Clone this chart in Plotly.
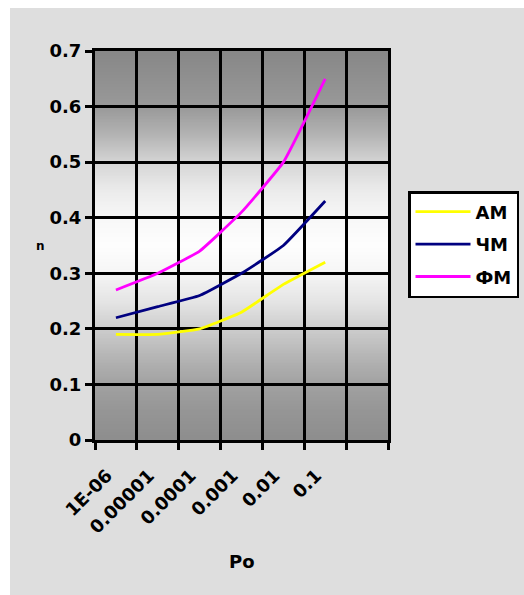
import base64
import struct
import zlib

import numpy as np
import plotly.graph_objects as go

# Signal power (category labels) and efficiency for three modulation types
po_labels = ["1E-06", "0.00001", "0.0001", "0.001", "0.01", "0.1"]
am_values = [0.19, 0.19, 0.20, 0.23, 0.28, 0.32]
chm_values = [0.22, 0.24, 0.26, 0.30, 0.35, 0.43]
fm_values = [0.27, 0.30, 0.34, 0.41, 0.50, 0.65]

series_names = ["АМ", "ЧМ", "ФМ"]
series_colors = ["#ffff00", "#000080", "#ff00ff"]

n_slots = 7  # one empty category slot on the right
y_max = 0.7

FONT = dict(family="DejaVu Sans", size=18, color="black", weight="bold")

W, H = 524, 595
ML, MR, MT, MB = 95, 136, 51, 155
PW, PH = W - ML - MR, H - MT - MB


def gray_png(levels):
    """Encode a 1-pixel-wide grayscale column as a PNG data URI."""
    raw = b"".join(b"\x00" + bytes([int(v)]) for v in levels)

    def chunk(tag, data):
        body = tag + data
        return (struct.pack(">I", len(data)) + body
                + struct.pack(">I", zlib.crc32(body) & 0xFFFFFFFF))

    png = (b"\x89PNG\r\n\x1a\n"
           + chunk(b"IHDR", struct.pack(">IIBBBBB", 1, len(levels), 8, 0, 0, 0, 0))
           + chunk(b"IDAT", zlib.compress(raw))
           + chunk(b"IEND", b""))
    return "data:image/png;base64," + base64.b64encode(png).decode()


# vertical shading of the plot area: dark at top and bottom, white in the middle
stops_y = [0.7, 0.6, 0.55, 0.5, 0.45, 0.4, 0.35, 0.3, 0.25, 0.2, 0.15, 0.1, 0.05, 0.0]
stops_g = [136, 154, 180, 214, 236, 248, 254, 246, 230, 206, 182, 162, 150, 142]
ys = np.linspace(y_max, 0, 256)
shade = np.interp(-ys, [-v for v in stops_y], stops_g)

fig = go.Figure()

x_pos = list(range(len(po_labels)))
for name, color, vals in zip(series_names, series_colors,
                             [am_values, chm_values, fm_values]):
    fig.add_trace(go.Scatter(
        x=x_pos, y=vals, name=name, mode="lines",
        line=dict(color=color, width=2.8, shape="spline", smoothing=0.35),
        legendgroup=name,
    ))


def px_to_paper_x(px):
    return (px - ML) / PW


def px_to_paper_y(py):
    return (H - MB - py) / PH


fig.update_layout(
    width=W, height=H,
    margin=dict(l=ML, r=MR, t=MT, b=MB, autoexpand=False),
    paper_bgcolor="white",
    plot_bgcolor="white",
    showlegend=True,
    legend=dict(
        x=px_to_paper_x(408), y=px_to_paper_y(191),
        xanchor="left", yanchor="top",
        bgcolor="white", bordercolor="black", borderwidth=2.5,
        font=FONT, itemwidth=55, tracegroupgap=6,
    ),
    images=[dict(
        source=gray_png(shade), xref="x", yref="y",
        x=-0.5, y=y_max, sizex=n_slots, sizey=y_max,
        sizing="stretch", layer="below",
    )],
    shapes=[dict(
        type="rect", xref="paper", yref="paper", layer="below",
        x0=px_to_paper_x(10), x1=px_to_paper_x(W),
        y0=px_to_paper_y(H), y1=px_to_paper_y(8),
        fillcolor="#dedede", line=dict(width=0),
    )],
    annotations=[
        dict(text="n", xref="paper", yref="paper",
             x=px_to_paper_x(40), y=0.5, xanchor="center", yanchor="middle",
             showarrow=False,
             font=dict(family="DejaVu Sans", size=12, color="black", weight="bold")),
        dict(text="Po", xref="paper", yref="paper",
             x=px_to_paper_x(242), y=px_to_paper_y(561),
             xanchor="center", yanchor="middle", showarrow=False,
             font=FONT),
    ],
)

fig.update_xaxes(
    range=[-0.5, n_slots - 0.5],
    tickmode="array", tickvals=x_pos,
    ticktext=[lbl + "\u00a0\u00a0" for lbl in po_labels],
    tickangle=-45, ticks="", showgrid=False, zeroline=False,
    ticklabelstandoff=6,
    tickfont=FONT,
    showline=True, linecolor="black", linewidth=3, mirror=True,
    minor=dict(tickmode="linear", tick0=-0.5, dtick=1,
               ticks="outside", ticklen=7, tickwidth=3, tickcolor="black",
               showgrid=True, gridcolor="black", gridwidth=3),
)
fig.update_yaxes(
    range=[0, y_max], dtick=0.1, tick0=0,
    showgrid=True, gridcolor="black", gridwidth=3, zeroline=False,
    ticks="outside", ticklen=7, tickwidth=3, tickcolor="black",
    tickfont=FONT,
    showline=True, linecolor="black", linewidth=3, mirror=True,
)

fig.write_html("out.html")
